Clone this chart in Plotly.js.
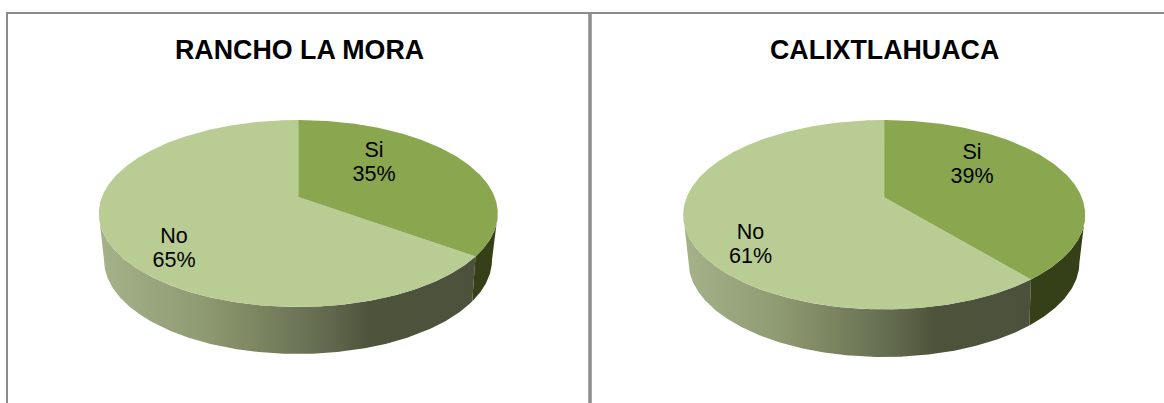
<!DOCTYPE html>
<html>
<head>
<meta charset="utf-8">
<script src="https://cdn.plot.ly/plotly-3.0.1.min.js"></script>
<style>html,body{margin:0;padding:0;background:#fff;overflow:hidden}#chart{width:1164px;height:403px}</style>
</head>
<body>
<div id="chart"></div>
<script>
// ---- data ----
const categories = ["Si", "No"];
const ranchoValues = [35, 65];
const calixValues = [39, 61];
const chartTitles = ["RANCHO LA MORA", "CALIXTLAHUACA"];

// ---- page geometry (pixel-space axes) ----
const W = 1164, H = 403;
const panels = [
  { title: chartTitles[0], values: ranchoValues, titleX: 299, titleY: 50,
    top: { cx: 298.3, cy: 213.5, rx: 199.5, ry: 93.5, p: 0.176 },
    bottom: { cx: 298, cy: 260, rx: 194, ry: 94, p: 0.2 },
    labels: [{ x: 374, y1: 151.5, y2: 175.5 }, { x: 174, y1: 237.5, y2: 261.5 }] },
  { title: chartTitles[1], values: calixValues, titleX: 884, titleY: 50,
    top: { cx: 884.2, cy: 214.7, rx: 201, ry: 94.7, p: 0.184 },
    bottom: { cx: 884, cy: 262, rx: 195.5, ry: 95, p: 0.21 },
    labels: [{ x: 972, y1: 153.5, y2: 177.5 }, { x: 750.6, y1: 233.5, y2: 257.5 }] }
];
const colors = { si: "#8aa64f", no: "#b9cc94", siWall: "#354019" };
const wallScale = [[0, "#a5b28a"], [0.27, "#8f9b72"], [0.42, "#7c8661"], [0.58, "#666e52"],
                   [0.72, "#4e543b"], [1, "#4b513b"]];

// perspective projection of a circle, theta in degrees clockwise from the top
function project(e, deg) {
  const t = deg * Math.PI / 180, u = Math.sin(t), v = Math.cos(t);
  const w = 1 + e.p * v, q = 1 - e.p * e.p;
  return [e.cx + e.rx * Math.sqrt(q) * u / w,
          e.cy - e.ry * ((v / w) * q + e.p)];
}
function arc(e, a, b) {
  const n = Math.max(2, Math.round(Math.abs(b - a) * 2)), pts = [];
  for (let i = 0; i <= n; i++) pts.push(project(e, a + (b - a) * i / n));
  return pts;
}
function leftmost(e) {
  let best = 180, bx = Infinity;
  for (let d = 180; d < 360; d += 0.25) { const x = project(e, d)[0]; if (x < bx) { bx = x; best = d; } }
  return best;
}
function rightmost(e) {
  let best = 0, bx = -Infinity;
  for (let d = 0; d < 180; d += 0.25) { const x = project(e, d)[0]; if (x > bx) { bx = x; best = d; } }
  return best;
}
function poly(pts, extra) {
  return Object.assign({ x: pts.map(p => p[0]), y: pts.map(p => p[1]), type: "scatter", mode: "lines",
    fill: "toself", line: { width: 0 }, hoverinfo: "skip", showlegend: false }, extra);
}

const traces = [];
panels.forEach(pn => {
  const total = pn.values[0] + pn.values[1];
  const split = 360 * pn.values[0] / total;
  const t = pn.top, b = pn.bottom;
  const lT = leftmost(t), lB = leftmost(b), rT = rightmost(t), rB = rightmost(b);
  const centre = [t.cx, t.cy - t.ry * t.p];

  // walls
  const noWall = arc(t, split, lT).concat(arc(b, lB, split));
  traces.push(poly(noWall, { fillcolor: "#7c8661",
    fillgradient: { type: "horizontal", colorscale: wallScale } }));
  const siWall = arc(t, rT, split).concat(arc(b, split, rB));
  traces.push(poly(siWall, { fillcolor: colors.siWall }));

  // top face
  traces.push(poly([centre].concat(arc(t, split, 360)), {
    fillcolor: colors.no, name: categories[1], hoverinfo: "name" }));
  traces.push(poly([centre].concat(arc(t, 0, split)), {
    fillcolor: colors.si, name: categories[0], hoverinfo: "name" }));

  // labels
  pn.labels.forEach((l, i) => {
    traces.push({ type: "scatter", mode: "text", x: [l.x, l.x], y: [l.y1, l.y2],
      text: [categories[i], pn.values[i] + "%"], textposition: "middle center",
      textfont: { family: "Liberation Sans, Arial, sans-serif", size: 21.5, color: "#000" },
      hoverinfo: "skip", showlegend: false });
  });
});

const border = "#8c8c8c";
const layout = {
  width: W, height: H, margin: { l: 0, r: 0, t: 0, b: 0 },
  paper_bgcolor: "#fff", plot_bgcolor: "#fff", showlegend: false,
  xaxis: { range: [0, W], visible: false, fixedrange: true },
  yaxis: { range: [H, 0], visible: false, fixedrange: true },
  shapes: [
    { type: "line", x0: 6, x1: W, y0: 13, y1: 13, line: { color: border, width: 2 } },
    { type: "line", x0: 7, x1: 7, y0: 13, y1: H, line: { color: border, width: 2 } },
    { type: "line", x0: 590, x1: 590, y0: 13, y1: H, line: { color: border, width: 3.5 } }
  ],
  annotations: panels.map(pn => ({
    text: "<b>" + pn.title + "</b>", x: pn.titleX, y: pn.titleY, xref: "x", yref: "y",
    showarrow: false, xanchor: "center", yanchor: "middle",
    font: { family: "Liberation Sans, Arial, sans-serif", size: 26.8, color: "#000" }
  }))
};
Plotly.newPlot("chart", traces, layout, { staticPlot: true, displayModeBar: false });
</script>
</body>
</html>
